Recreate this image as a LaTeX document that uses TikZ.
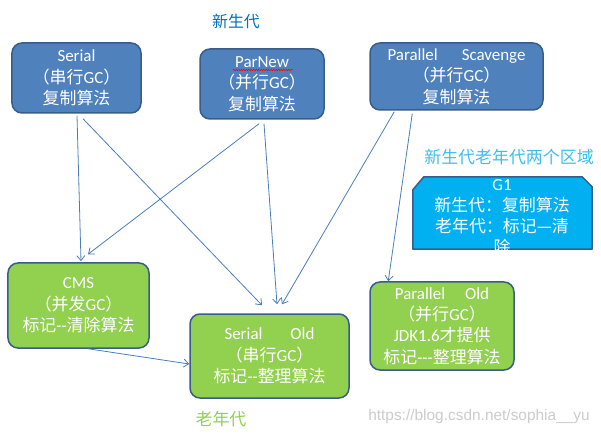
\documentclass[tikz,border=0pt]{standalone}
\usepackage{fontspec}
\setmainfont{Carlito}
\newfontfamily\cjk{Noto Sans CJK SC}
\newfontfamily\urlfont{Liberation Sans}
\usetikzlibrary{shapes,arrows.meta,decorations.pathmorphing}

\definecolor{youngfill}{HTML}{4F81BD}
\definecolor{oldfill}{HTML}{92D050}
\definecolor{gonefill}{HTML}{00B0F0}
\definecolor{boxline}{HTML}{385D8A}
\definecolor{arrowblue}{HTML}{4A7EBB}
\definecolor{youngtext}{HTML}{0070C0}
\definecolor{bothtext}{HTML}{3CBEF0}

\tikzset{
  gcbox/.style={rectangle, rounded corners=10bp, draw=boxline, line width=1.5bp, text=white,
    align=center, inner sep=0pt, font=\fontsize{17}{21.5}\selectfont},
  gcline/.style={draw=arrowblue, line width=0.8bp, -{Straight Barb[length=5bp,width=8bp]}},
  gclabel/.style={font=\fontsize{17}{17}\selectfont\cjk},
}

\newcommand{\zh}[1]{{\cjk #1}}
\newcommand{\gcnode}[6] {\node at (#1) (#2) [gcbox, fill=#3, minimum width=#4, minimum height=#5] {#6};}
\newcommand{\gcarrow}[2] {\draw [gcline] (#1) -- (#2);}

\begin{document}
\begin{tikzpicture}[x=1bp,y=-1bp]
\useasboundingbox (0,0) rectangle (601,436);

\gcnode{76.5,78}{serial}{youngfill}{129bp}{70bp}{Serial\\\zh{（串行}GC\zh{）}\\\zh{复制算法}};
\gcnode{262,84}{parnew}{youngfill}{124bp}{70bp}{ParNew\\\zh{（并行}GC\zh{）}\\\zh{复制算法}};
\gcnode{456.5,76.5}{scavenge}{youngfill}{173bp}{67bp}{Parallel\hspace{24bp}Scavenge\\\zh{（并行}GC\zh{）}\\\zh{复制算法}};
\gcnode{78.5,305.5}{cms}{oldfill}{141bp}{85bp}{CMS\\\zh{（并发}GC\zh{）}\\\zh{标记}-{}-\zh{清除算法}};
\gcnode{269.5,356}{serialold}{oldfill}{159bp}{84bp}{Serial\hspace{28bp}Old\\\zh{（串行}GC\zh{）}\\\zh{标记}-{}-\zh{整理算法}};
\gcnode{442,326}{parold}{oldfill}{144bp}{88bp}{Parallel\hspace{20bp}Old\\\zh{（并行}GC\zh{）}\\JDK1.6\zh{才提供}\\\zh{标记}-{}-{}-\zh{整理算法}};

% G1 box, top corners cut
\node at (502.5,213) (g1) [rectangle, minimum width=179bp, minimum height=72bp, inner sep=0pt] {};
\draw [draw=boxline, line width=1.5bp, fill=gonefill, line join=round]
  (g1.south west) -- ([shift={(0,13)}]g1.north west) -- ([shift={(11,0)}]g1.north west)
  -- ([shift={(-10,0)}]g1.north east) -- ([shift={(0,10)}]g1.north east) -- (g1.south east) -- cycle;
\node at (502,217.5) (g1text) [text=white, align=center, font=\fontsize{17}{21}\selectfont]
  {G1\\\zh{新生代：复制算法}\\\zh{老年代：标记—清}\\\zh{除}};

\draw [red, line width=0.5bp, decorate, decoration={snake, amplitude=0.8bp, segment length=2.5bp}]
  ([shift={(-29,-14)}]parnew.center) -- ([shift={(31,-14)}]parnew.center);

\node at (236,21) (younglabel) [gclabel, text=youngtext, font=\fontsize{16}{16}\selectfont\cjk] {新生代};
\node at (509,157) (bothlabel) [gclabel, text=bothtext] {新生代老年代两个区域};
\node at (221,419) (oldlabel) [gclabel, text=oldfill] {老年代};
\node at (479,417) (watermark) [text=gray!40, font=\urlfont\fontsize{15.5}{16}\selectfont] {https://blog.csdn.net/sophia\_\_yu};

\gcarrow{[shift={(0.5,2)}]serial.south}{[shift={(2.5,-1)}]cms.north};
\gcarrow{[shift={(6.5,5)}]serial.south}{[shift={(-7.5,-8)}]serialold.north};
\gcarrow{[shift={(-3,4)}]parnew.south}{[shift={(9.5,-8)}]cms.north};
\gcarrow{[shift={(2,4)}]parnew.south}{[shift={(7.5,-9)}]serialold.north};
\gcarrow{[shift={(25,1)}]scavenge.south west}{[shift={(12.5,-9)}]serialold.north};
\gcarrow{[shift={(43,3)}]scavenge.south west}{[shift={(19,0)}]parold.north west};
\gcarrow{[shift={(9.5,0)}]cms.south}{[shift={(0,8)}]serialold.west};

%\node at (300,430) {};
\end{tikzpicture}
\end{document}
